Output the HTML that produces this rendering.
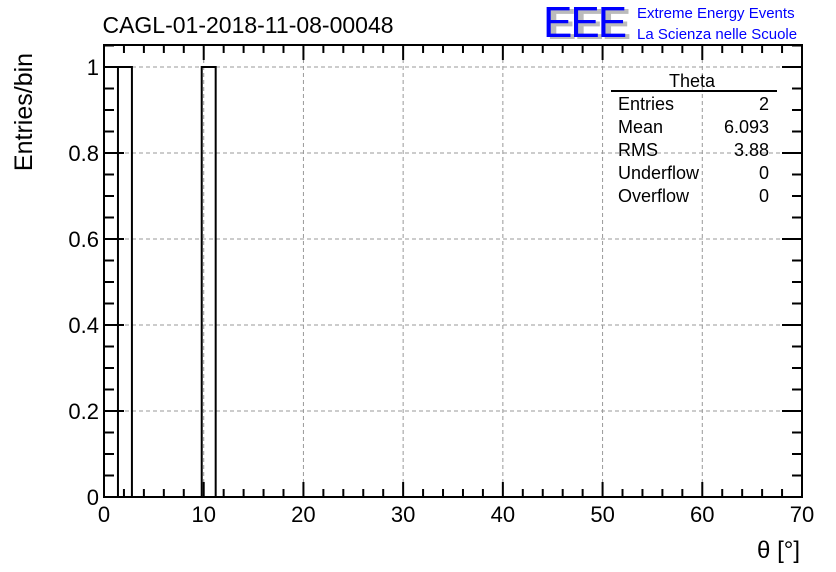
<!DOCTYPE html>
<html><head><meta charset="utf-8"><style>
body{margin:0;background:#fff}
svg{display:block;font-family:"Liberation Sans",Arial,sans-serif}
</style></head><body>
<svg id="chart" width="836" height="572" viewBox="0 0 836 572">
<rect width="836" height="572" fill="#fff"/>
<g id="grid"></g>
<g id="bars"></g>
<g id="axes"></g>
<text x="248" y="33" font-size="23" text-anchor="middle">CAGL-01-2018-11-08-00048</text>
<g>
<text x="547" y="39" font-size="44" fill="#bbb" font-weight="bold" letter-spacing="-2">EEE</text>
<text x="543" y="37" font-size="44" fill="#0000ff" letter-spacing="-2">EEE</text>
<text x="637" y="18" font-size="15" fill="#0000ff">Extreme Energy Events</text>
<text x="637" y="39" font-size="15" fill="#0000ff">La Scienza nelle Scuole</text>
</g>
<g font-size="18">
<text x="692" y="87" text-anchor="middle">Theta</text>
<line x1="611" y1="91" x2="777" y2="91" stroke="#000" stroke-width="2"/>
<text x="618" y="110">Entries</text><text x="769" y="110" text-anchor="end">2</text>
<text x="618" y="133">Mean</text><text x="769" y="133" text-anchor="end">6.093</text>
<text x="618" y="156">RMS</text><text x="769" y="156" text-anchor="end">3.88</text>
<text x="618" y="179">Underflow</text><text x="769" y="179" text-anchor="end">0</text>
<text x="618" y="202">Overflow</text><text x="769" y="202" text-anchor="end">0</text>
</g>
<text x="800" y="558" font-size="24" text-anchor="end">θ [°]</text>
<text transform="translate(32,112) rotate(-90)" font-size="25" text-anchor="middle">Entries/bin</text>
</svg>
<script>
const binEdgesStart = 0, binWidth = 1.4, nBins = 50;
const binCounts = [0,1,0,0,0,0,0,1,0,0,0,0,0,0,0,0,0,0,0,0,0,0,0,0,0,0,0,0,0,0,0,0,0,0,0,0,0,0,0,0,0,0,0,0,0,0,0,0,0,0];
const xTicks = [0,10,20,30,40,50,60,70];
const yTicks = [0,0.2,0.4,0.6,0.8,1];
const yTickLabels = ["0","0.2","0.4","0.6","0.8","1"];
const L=104,R=802,T=45,B=497, XMIN=0,XMAX=70,YMIN=0,YMAX=1.0512;
const NS="http://www.w3.org/2000/svg";
const xs=v=>L+(v-XMIN)/(XMAX-XMIN)*(R-L);
const ys=v=>B-(v-YMIN)/(YMAX-YMIN)*(B-T);
function mk(tag,attrs,parent){const e=document.createElementNS(NS,tag);for(const k in attrs)e.setAttribute(k,attrs[k]);parent.appendChild(e);return e;}
const grid=document.getElementById('grid'),bars=document.getElementById('bars'),axes=document.getElementById('axes');
xTicks.forEach(v=>{if(v>XMIN&&v<XMAX){const l=mk('line',{x1:xs(v),x2:xs(v),y1:T,y2:B,stroke:'#999','stroke-dasharray':'4,3','stroke-width':1},grid);

}});
yTicks.forEach(v=>{if(v>YMIN){const l=mk('line',{x1:L,x2:R,y1:ys(v),y2:ys(v),stroke:'#999','stroke-dasharray':'4,3','stroke-width':1},grid);

}});
binCounts.forEach((c,i)=>{if(c>0){const x0=xs(binEdgesStart+i*binWidth),x1=xs(binEdgesStart+(i+1)*binWidth);
const p=mk('path',{d:`M${x0},${B}V${ys(c)}H${x1}V${B}`,fill:'none',stroke:'#000','stroke-width':2},bars);

}});
const fr=mk('rect',{x:L,y:T,width:R-L,height:B-T,fill:'none',stroke:'#000','stroke-width':2},axes);


for(let v=0;v<=70;v+=2){const maj=v%10===0,len=maj?15:8;
mk('line',{x1:xs(v),x2:xs(v),y1:B,y2:B-len,stroke:'#000','stroke-width':2},axes);
mk('line',{x1:xs(v),x2:xs(v),y1:T,y2:T+len,stroke:'#000','stroke-width':2},axes);}
for(let k=0;k<=21;k++){const v=k*0.05,maj=k%4===0,len=maj?20:10;
mk('line',{x1:L,x2:L+len,y1:ys(v),y2:ys(v),stroke:'#000','stroke-width':2},axes);
mk('line',{x1:R,x2:R-len,y1:ys(v),y2:ys(v),stroke:'#000','stroke-width':2},axes);}
xTicks.forEach(v=>{const t=mk('text',{x:xs(v),y:522,'font-size':22,'text-anchor':'middle'},axes);t.textContent=String(v);

});
yTicks.forEach((v,i)=>{const t=mk('text',{x:99,y:ys(v)+8,'font-size':22,'text-anchor':'end'},axes);t.textContent=yTickLabels[i];

});
</script>
</body></html>
